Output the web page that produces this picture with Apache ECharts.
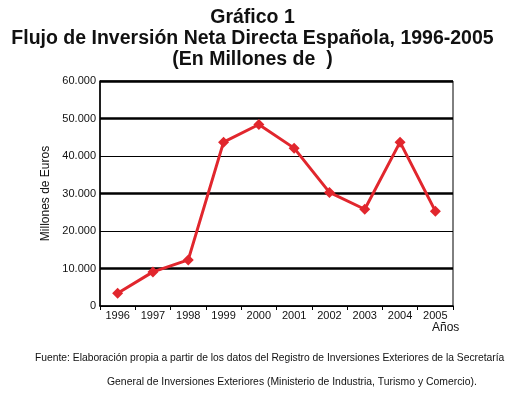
<!DOCTYPE html>
<html>
<head>
<meta charset="utf-8">
<script src="https://cdn.jsdelivr.net/npm/echarts@6/dist/echarts.min.js"></script>
<style>
  html, body { margin: 0; padding: 0; background: #fff; }
  #chart { width: 505px; height: 393px; }
</style>
</head>
<body>
<div id="chart"></div>
<script>
const years = ['1996', '1997', '1998', '1999', '2000', '2001', '2002', '2003', '2004', '2005'];
const inversion = [3400, 9100, 12300, 43700, 48400, 42100, 30300, 25800, 43700, 25300];
const thickLines = [10000, 30000, 50000, 60000];

const titleLines = [
  'Gráfico 1',
  'Flujo de Inversión Neta Directa Española, 1996-2005',
  '(En Millones de  )'
];
const sourceLines = [
  'Fuente: Elaboración propia a partir de los datos del Registro de Inversiones Exteriores de la Secretaría',
  'General de Inversiones Exteriores (Ministerio de Industria, Turismo y Comercio).'
];

const font = 'Liberation Sans, Arial, sans-serif';

function formatMiles(v) {
  return String(v).replace(/\B(?=(\d{3})+(?!\d))/g, '.');
}

const chart = echarts.init(document.getElementById('chart'));

chart.setOption({
  backgroundColor: '#fff',
  animation: false,
  title: {
    text: titleLines.join('\n'),
    left: 'center',
    top: 2,
    textStyle: { fontFamily: font, fontSize: 19.5, fontWeight: 'bold', color: '#111', lineHeight: 21 }
  },
  grid: { left: 100, right: 52, top: 81, bottom: 87, show: true, borderColor: '#000', borderWidth: 1 },
  xAxis: {
    type: 'category',
    data: years,
    boundaryGap: true,
    axisLine: { lineStyle: { color: '#000', width: 1.5 } },
    axisTick: { show: true, interval: 0, length: 4, lineStyle: { color: '#000' } },
    axisLabel: { fontFamily: font, fontSize: 11, color: '#111', margin: 4, interval: 0 }
  },
  yAxis: {
    type: 'value',
    min: 0,
    max: 60000,
    interval: 10000,
    name: 'Millones de Euros',
    nameLocation: 'middle',
    nameGap: 47,
    nameTextStyle: { fontFamily: font, fontSize: 12, color: '#111' },
    axisLine: { show: true, lineStyle: { color: '#000', width: 1.5 } },
    axisTick: { show: false },
    axisLabel: { fontFamily: font, fontSize: 11, color: '#111', margin: 4, formatter: formatMiles },
    splitLine: { show: true, lineStyle: { color: '#000', width: 1 } }
  },
  graphic: [
    {
      type: 'text', left: 432, top: 322,
      style: { text: 'Años', font: '12px ' + font, fill: '#111' }
    },
    {
      type: 'text', left: 35, top: 353,
      style: { text: sourceLines[0], font: '10.3px ' + font, fill: '#111' }
    },
    {
      type: 'text', left: 107, top: 377,
      style: { text: sourceLines[1], font: '10.4px ' + font, fill: '#111' }
    }
  ],
  series: [{
    type: 'line',
    data: inversion,
    symbol: 'diamond',
    symbolSize: 11,
    lineStyle: { color: '#e1262d', width: 3 },
    itemStyle: { color: '#e1262d' },
    markLine: {
      silent: true,
      symbol: 'none',
      label: { show: false },
      lineStyle: { color: '#000', width: 2.5, type: 'solid' },
      data: thickLines.map(v => ({ yAxis: v }))
    },
    z: 5
  }]
});
</script>
</body>
</html>
